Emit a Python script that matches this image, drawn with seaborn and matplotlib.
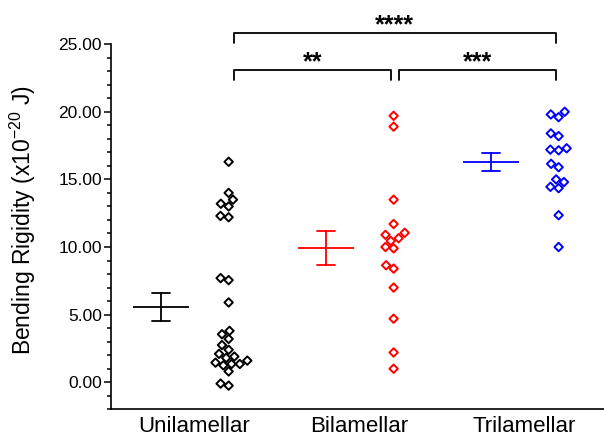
import matplotlib.pyplot as plt
import matplotlib.transforms as mtransforms
import numpy as np
import pandas as pd
import seaborn as sns
from matplotlib.ticker import FormatStrFormatter, MultipleLocator

groups = ["Unilamellar", "Bilamellar", "Trilamellar"]
colors = ["black", "red", "blue"]

# bending rigidity (x1e-20 J)
unilamellar = [16.3, 14.0, 13.2, 13.5, 13.0, 12.3, 12.2, 7.7, 7.55, 5.9,
               3.8, 3.2, 3.55, 2.75, 2.4, 2.1, 1.8, 1.45, 1.35, 0.8,
               1.25, 1.35, 1.6, 1.9, -0.25, -0.1]
bilamellar = [19.7, 18.9, 13.5, 11.7, 11.05, 10.9, 10.65, 10.45, 10.0, 9.9,
              8.65, 8.4, 7.0, 4.7, 2.2, 1.0]
trilamellar = [19.8, 19.6, 20.0, 18.4, 18.2, 17.2, 17.15, 17.3, 16.15, 15.9,
               15.0, 14.45, 14.35, 14.8, 12.35, 10.0]

# significance brackets: (group a, group b, label)
comparisons = [(0, 1, "**"), (1, 2, "***"), (0, 2, "****")]

sns.set_theme(style="ticks", rc={
    "axes.edgecolor": "black", "xtick.color": "black", "ytick.color": "black",
    "text.color": "black", "axes.labelcolor": "black",
})
plt.rcParams["font.family"] = ["Liberation Sans", "DejaVu Sans"]
plt.rcParams["mathtext.fontset"] = "custom"
plt.rcParams["mathtext.rm"] = "Liberation Sans"
plt.rcParams["mathtext.it"] = "Liberation Sans:italic"
plt.rcParams["mathtext.bf"] = "Liberation Sans:bold"

df = pd.DataFrame({
    "group": np.repeat(groups, [len(unilamellar), len(bilamellar), len(trilamellar)]),
    "value": unilamellar + bilamellar + trilamellar,
})
palette = dict(zip(groups, colors))

fig = plt.figure(figsize=(6.04, 4.41), dpi=100)
ax = fig.add_axes([0.1846, 0.0719, 0.8154, 0.828])

# mean +/- SE, shifted left of the category centre
sns.pointplot(data=df, x="group", y="value", hue="group", order=groups, palette=palette,
              errorbar="se", capsize=0.11, markers="_", markersize=41,
              markeredgewidth=1.3, linestyle="none", err_kws={"linewidth": 1.3},
              legend=False, ax=ax)
shift_left = mtransforms.Affine2D().translate(-0.2, 0) + ax.transData
for ln in ax.lines:
    ln.set_transform(shift_left)

# raw points as open diamonds, shifted right
n0 = len(ax.collections)
sns.swarmplot(data=df, x="group", y="value", hue="group", order=groups, palette=palette,
              marker="D", size=4.3, linewidth=1.4, legend=False, ax=ax)
shift_right = mtransforms.Affine2D().translate(0.21, 0) + ax.transData
for coll in ax.collections[n0:]:
    coll.set_edgecolor(coll.get_facecolor())
    coll.set_facecolor("none")
    coll.set_offset_transform(shift_right)

# significance brackets
for a, b, label in comparisons:
    level = 1 if b - a > 1 else 0
    y = 23.1 + 2.75 * level
    x0, x1 = a + 0.24, b + 0.195
    ax.plot([x0, x0, x1, x1], [y - 0.75, y, y, y - 0.75], color="black",
            lw=1.3, clip_on=False)
    ax.text((x0 + x1) / 2, y + 0.05, label, ha="center", va="baseline",
            fontsize=18, fontweight="bold", clip_on=False)

ax.set_xlim(-0.5, 2.485)
ax.set_ylim(-2, 25)
ax.set_yticks(np.arange(0, 26, 5))
ax.yaxis.set_minor_locator(MultipleLocator(1))
ax.yaxis.set_major_formatter(FormatStrFormatter("%.2f"))
ax.tick_params(axis="y", which="major", length=5, width=1.1, labelsize=12.5, pad=2)
ax.tick_params(axis="y", which="minor", length=3, width=1.1)
ax.tick_params(axis="x", length=0, labelsize=16, pad=5)
ax.set_xlabel("")
ax.set_ylabel(r"Bending Rigidity (x10$^{-20}$ J)", fontsize=16.5)
ax.yaxis.set_label_coords(-0.15, 0.518)
sns.despine(ax=ax)
for side in ["left", "bottom"]:
    ax.spines[side].set_linewidth(1.2)

fig.savefig("out.png", dpi=100)
plt.close(fig)
